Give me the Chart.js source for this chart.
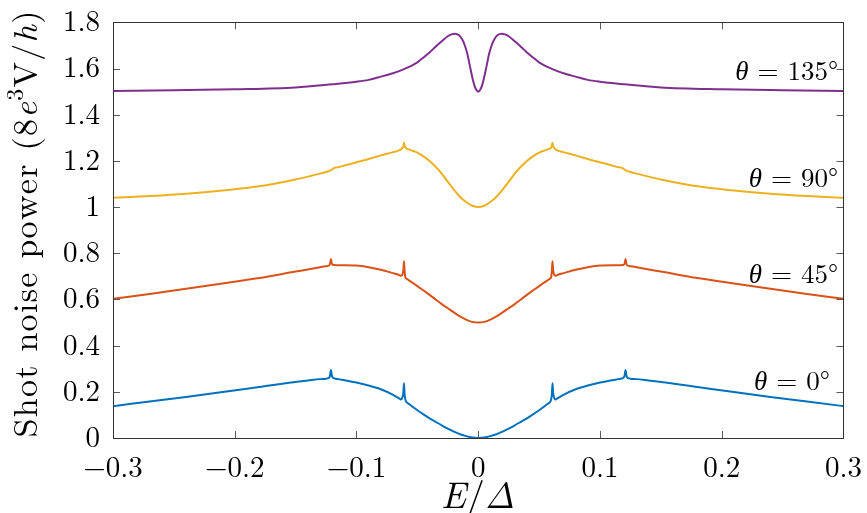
<!DOCTYPE html>
<html><head><meta charset="utf-8">
<script src="https://cdn.jsdelivr.net/npm/chart.js@4"></script>
<style>html,body{margin:0;padding:0;background:#fff}#wrap{width:867px;height:513px;position:relative}canvas{display:block}</style>
</head><body><div id="wrap"><canvas id="c" width="867" height="513"></canvas></div>
<script>
// ---------- data ----------
const energyA = [-0.3, -0.27, -0.24, -0.21, -0.18, -0.15, -0.14, -0.13, -0.125, -0.1225,
  -0.1217, -0.121, -0.1203, -0.1195, -0.118, -0.115, -0.11, -0.1, -0.09, -0.08,
  -0.07, -0.065, -0.0635, -0.0622, -0.0615, -0.061, -0.0605, -0.0598, -0.059, -0.057,
  -0.055, -0.05, -0.045, -0.04, -0.035, -0.03, -0.025, -0.02, -0.015, -0.01, -0.005, 0,
  0.005, 0.01, 0.015, 0.02, 0.025, 0.03, 0.035, 0.04, 0.045, 0.05,
  0.055, 0.057, 0.059, 0.0598, 0.0605, 0.061, 0.0615, 0.0622, 0.0635, 0.065,
  0.07, 0.08, 0.09, 0.1, 0.11, 0.115, 0.118, 0.1195, 0.1203, 0.121,
  0.1217, 0.1225, 0.125, 0.13, 0.14, 0.15, 0.18, 0.21, 0.24, 0.27, 0.3];
const noise0 = [0.138, 0.158, 0.178, 0.199, 0.221, 0.243, 0.249, 0.255, 0.257, 0.261,
  0.272, 0.295, 0.272, 0.262, 0.258, 0.255, 0.25, 0.24, 0.227, 0.211,
  0.187, 0.172, 0.167, 0.177, 0.198, 0.237, 0.19, 0.165, 0.156, 0.148,
  0.14, 0.12, 0.102, 0.085, 0.07, 0.055, 0.041, 0.028, 0.016, 0.008, 0.002, 0,
  0.002, 0.008, 0.016, 0.028, 0.041, 0.055, 0.07, 0.085, 0.102, 0.12,
  0.14, 0.148, 0.156, 0.165, 0.19, 0.237, 0.198, 0.177, 0.167, 0.172,
  0.187, 0.211, 0.227, 0.24, 0.25, 0.255, 0.258, 0.262, 0.272, 0.295,
  0.272, 0.261, 0.257, 0.255, 0.249, 0.243, 0.221, 0.199, 0.178, 0.158, 0.138];
const noise45 = [0.603, 0.624, 0.646, 0.669, 0.693, 0.721, 0.73, 0.74, 0.744, 0.747,
  0.755, 0.775, 0.757, 0.75, 0.749, 0.748, 0.748, 0.747, 0.74, 0.729,
  0.714, 0.706, 0.703, 0.71, 0.728, 0.765, 0.725, 0.695, 0.69, 0.683,
  0.676, 0.658, 0.639, 0.62, 0.6, 0.58, 0.562, 0.544, 0.527, 0.513, 0.503, 0.5,
  0.503, 0.513, 0.527, 0.544, 0.562, 0.58, 0.6, 0.62, 0.639, 0.658,
  0.676, 0.683, 0.69, 0.695, 0.725, 0.765, 0.728, 0.71, 0.703, 0.706,
  0.714, 0.729, 0.74, 0.747, 0.748, 0.748, 0.749, 0.75, 0.757, 0.775,
  0.755, 0.747, 0.744, 0.74, 0.73, 0.721, 0.693, 0.669, 0.646, 0.624, 0.603];
const noise90 = [1.04, 1.048, 1.058, 1.072, 1.09, 1.12, 1.132, 1.145, 1.152, 1.156,
  1.158, 1.16, 1.162, 1.165, 1.17, 1.173, 1.18, 1.194, 1.208, 1.224,
  1.238, 1.246, 1.25, 1.257, 1.265, 1.279, 1.266, 1.258, 1.254, 1.25,
  1.246, 1.236, 1.22, 1.2, 1.175, 1.145, 1.11, 1.076, 1.045, 1.022, 1.006, 1.0,
  1.006, 1.022, 1.045, 1.076, 1.11, 1.145, 1.175, 1.2, 1.22, 1.236,
  1.246, 1.25, 1.254, 1.258, 1.266, 1.279, 1.265, 1.257, 1.25, 1.246,
  1.238, 1.224, 1.208, 1.194, 1.18, 1.173, 1.17, 1.165, 1.162, 1.16,
  1.158, 1.156, 1.152, 1.145, 1.132, 1.12, 1.09, 1.072, 1.058, 1.048, 1.04];
const energyB = [-0.3, -0.25, -0.2, -0.15, -0.12, -0.1, -0.09, -0.08, -0.07, -0.065,
  -0.06, -0.055, -0.05, -0.045, -0.04, -0.035, -0.03, -0.025, -0.022, -0.019,
  -0.016, -0.013, -0.011, -0.009, -0.007, -0.005, -0.003, -0.0015, 0,
  0.0015, 0.003, 0.005, 0.007, 0.009, 0.011, 0.013, 0.016, 0.019, 0.022,
  0.025, 0.03, 0.035, 0.04, 0.045, 0.05, 0.055, 0.06, 0.065, 0.07,
  0.08, 0.09, 0.1, 0.12, 0.15, 0.2, 0.25, 0.3];
const noise135 = [1.503, 1.506, 1.51, 1.518, 1.532, 1.543, 1.551, 1.565, 1.58, 1.589,
  1.6, 1.612, 1.627, 1.648, 1.67, 1.695, 1.718, 1.74, 1.748, 1.751,
  1.745, 1.725, 1.7, 1.665, 1.615, 1.565, 1.525, 1.507, 1.5,
  1.507, 1.525, 1.565, 1.615, 1.665, 1.7, 1.725, 1.745, 1.751, 1.748,
  1.74, 1.718, 1.695, 1.67, 1.648, 1.627, 1.612, 1.6, 1.589, 1.58,
  1.565, 1.551, 1.543, 1.532, 1.518, 1.51, 1.506, 1.503];
const angleValues = ['0', '45', '90', '135'];
const xTickLabels = ['\u22120.3', '\u22120.2', '\u22120.1', '0', '0.1', '0.2', '0.3'];
const yTickLabels = ['0', '0.2', '0.4', '0.6', '0.8', '1', '1.2', '1.4', '1.6', '1.8'];

// ---------- styling / layout ----------
const colors = ['#0072BD', '#D95319', '#EDB120', '#7E2F8E'];
const FONT = "'Latin Modern Roman', 'Liberation Serif', serif";
const labelAnchors = [
  {x: 0.2889, y: 0.21}, {x: 0.2957, y: 0.672}, {x: 0.2957, y: 1.086}, {x: 0.2957, y: 1.549}
];

function pts(xs, ys) { return xs.map((x, i) => ({x: x, y: ys[i]})); }

function drawRich(ctx, segs, x, y, align, targetWidth) {
  let chars = [];
  segs.forEach(s => { for (const ch of s.t) chars.push({ch, s}); });
  const fontOf = s => (s.italic ? 'italic ' : '') + s.size + 'px ' + FONT;
  let natural = 0;
  chars.forEach(c => { ctx.font = fontOf(c.s); c.w = ctx.measureText(c.ch).width; natural += c.w; });
  let extra = 0;
  if (targetWidth && chars.length > 1) extra = (targetWidth - natural) / (chars.length - 1);
  const total = natural + extra * (chars.length - 1);
  let cx = align === 'right' ? x - total : align === 'center' ? x - total / 2 : x;
  ctx.textAlign = 'left';
  ctx.textBaseline = 'alphabetic';
  chars.forEach(c => {
    ctx.font = fontOf(c.s);
    ctx.fillText(c.ch, cx, y + (c.s.dy || 0));
    cx += c.w + extra;
  });
}

const decorPlugin = {
  id: 'decor',
  afterDraw(chart) {
    const ctx = chart.ctx;
    const a = chart.chartArea;
    const xs = chart.scales.x, ys = chart.scales.y;
    ctx.save();
    ctx.strokeStyle = '#5a5a5a';
    ctx.lineWidth = 1;
    const tl = 7;
    ctx.beginPath();
    xs.ticks.forEach(t => {
      const px = Math.round(xs.getPixelForValue(t.value)) + 0.5;
      ctx.moveTo(px, a.bottom); ctx.lineTo(px, a.bottom - tl);
      ctx.moveTo(px, a.top); ctx.lineTo(px, a.top + tl);
    });
    ys.ticks.forEach(t => {
      const py = Math.round(ys.getPixelForValue(t.value)) + 0.5;
      ctx.moveTo(a.left, py); ctx.lineTo(a.left + tl, py);
      ctx.moveTo(a.right, py); ctx.lineTo(a.right - tl, py);
    });
    ctx.stroke();
    ctx.strokeStyle = '#333333';
    ctx.strokeRect(Math.round(a.left) + 0.5, Math.round(a.top) + 0.5,
      Math.round(a.right - a.left), Math.round(a.bottom - a.top));
    ctx.fillStyle = '#000';
    angleValues.forEach((v, i) => {
      const px = xs.getPixelForValue(labelAnchors[i].x);
      const py = ys.getPixelForValue(labelAnchors[i].y);
      drawRich(ctx, [{t: '\u03B8', italic: true, size: 27}, {t: ' = ' + v + '\u00B0', size: 27}], px, py, 'right');
    });
    drawRich(ctx, [{t: 'E', italic: true, size: 37}, {t: '/', size: 37}, {t: '\u0394', italic: true, size: 37}],
      478, 508, 'center');
    ctx.save();
    ctx.translate(37, 224);
    ctx.rotate(-Math.PI / 2);
    drawRich(ctx, [
      {t: 'Shot noise power (8', size: 34},
      {t: 'e', italic: true, size: 34},
      {t: '3', size: 24, dy: -14},
      {t: 'V/', size: 34},
      {t: 'h', italic: true, size: 34},
      {t: ')', size: 34}
    ], 0, 0, 'center', 427);
    ctx.restore();
    ctx.restore();
  }
};

const mk = (label, xsArr, ysArr, color) => ({
  label, data: pts(xsArr, ysArr), borderColor: color, backgroundColor: color,
  borderWidth: 2, pointRadius: 0, fill: false,
  cubicInterpolationMode: 'monotone'
});

new Chart(document.getElementById('c'), {
  type: 'line',
  data: {
    datasets: [
      mk('\u03B8 = 0\u00B0', energyA, noise0, colors[0]),
      mk('\u03B8 = 45\u00B0', energyA, noise45, colors[1]),
      mk('\u03B8 = 90\u00B0', energyA, noise90, colors[2]),
      mk('\u03B8 = 135\u00B0', energyB, noise135, colors[3])
    ]
  },
  options: {
    responsive: false, animation: false, devicePixelRatio: 1,
    layout: {padding: {top: 17, right: 22, left: 0, bottom: 0}},
    plugins: {legend: {display: false}, tooltip: {enabled: false}},
    scales: {
      x: {
        type: 'linear', min: -0.3, max: 0.3,
        grid: {display: false}, border: {display: false},
        ticks: {stepSize: 0.1, color: '#000', padding: 5, maxRotation: 0,
          font: {family: FONT, size: 29},
          callback: (v, i) => xTickLabels[i]},
        afterFit: s => { s.height = 75; }
      },
      y: {
        min: 0, max: 1.8,
        grid: {display: false}, border: {display: false},
        ticks: {stepSize: 0.2, color: '#000', padding: 5,
          font: {family: FONT, size: 29},
          callback: (v, i) => yTickLabels[i]},
        afterFit: s => { s.width = 113; }
      }
    }
  },
  plugins: [decorPlugin]
});
</script></body></html>
